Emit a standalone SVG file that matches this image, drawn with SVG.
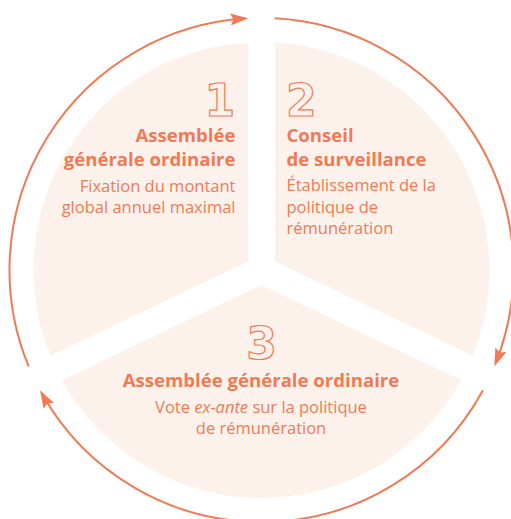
<svg xmlns="http://www.w3.org/2000/svg" width="511" height="519" viewBox="0 0 511 519">
<style>
.sector{fill:#FDF2EB;stroke:none}
.num{font-family:"DejaVu Sans",sans-serif;font-weight:bold;font-size:44px;fill:#FDF2EB;stroke:#F07A56;stroke-width:1.2}
.title{font-family:"Open Sans",sans-serif;font-weight:bold;font-size:18.6px;fill:#F07A56}
.body{font-family:"Open Sans",sans-serif;font-size:16.5px;fill:#F07A56}
.arc{fill:none;stroke:#F07A56;stroke-width:2}
</style>
<defs>
<marker id="ah" markerUnits="userSpaceOnUse" viewBox="0 0 18 12" markerWidth="18" markerHeight="12" refX="14" refY="6" orient="auto">
<path d="M0,0 L18,6 L0,12 L3,6 Z" fill="#F07A56"/>
</marker>
</defs>
<rect width="511" height="519" fill="#FFFFFF"/>
<g id="node1">
<path class="sector" d="M248,261.48 L248,42.4 A228,228 0 0,0 50.26,355.79 Z"/>
<text class="num" x="235" y="116" text-anchor="end">1</text>
<text class="title" text-anchor="end"><tspan x="235.5" y="141.5">Assemblée</tspan><tspan x="235.5" y="165.5">générale ordinaire</tspan></text>
<text class="body" text-anchor="end"><tspan x="235.5" y="191.5">Fixation du montant</tspan><tspan x="235.5" y="212.5">global annuel maximal</tspan></text>
</g>
<g id="node2">
<path class="sector" d="M275,261.48 L275,42.4 A228,228 0 0,1 472.74,355.79 Z"/>
<text class="num" x="286" y="116">2</text>
<text class="title"><tspan x="286.5" y="141.5">Conseil</tspan><tspan x="286.5" y="165.5">de surveillance</tspan></text>
<text class="body"><tspan x="286.5" y="191">Établissement de la</tspan><tspan x="286.5" y="212.5">politique de</tspan><tspan x="286.5" y="233.5">rémunération</tspan></text>
</g>
<g id="node3">
<path class="sector" d="M261.5,284.96 L461.12,380.17 A228,228 0 0,1 61.88,380.17 Z"/>
<text class="num" x="261.5" y="359" text-anchor="middle">3</text>
<text class="title" x="261" y="386.5" text-anchor="middle">Assemblée générale ordinaire</text>
<text class="body" text-anchor="middle"><tspan x="261" y="413">Vote <tspan font-style="italic">ex-ante</tspan> sur la politique</tspan><tspan x="261" y="434">de rémunération</tspan></text>
</g>
<g id="connectors">
<path class="arc" d="M28.68,366.44 A252,252 0 0,1 244.36,18.58" marker-end="url(#ah)"/>
<path class="arc" d="M274.69,18.35 A252,252 0 0,1 495.80,362.77" marker-end="url(#ah)"/>
<path class="arc" d="M482.96,390.24 A252,252 0 0,1 41.96,393.71" marker-end="url(#ah)"/>
</g>
</svg>
